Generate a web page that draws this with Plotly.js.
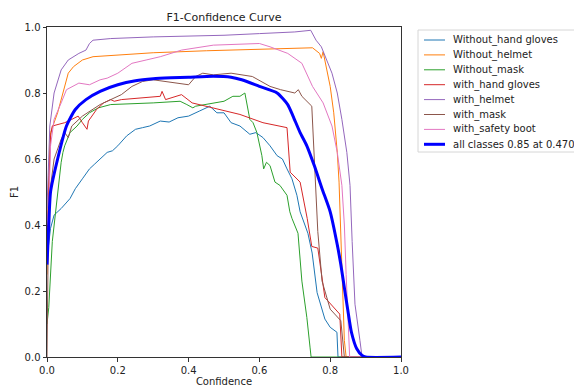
<!DOCTYPE html>
<html>
<head>
<meta charset="utf-8">
<script src="https://cdn.plot.ly/plotly-3.0.1.min.js"></script>
<style>html,body{margin:0;padding:0;background:#fff;}#chart{width:574px;height:387px;}</style>
</head>
<body>
<div id="chart"></div>
<script>
// Without_hand gloves
const conf_hand_gloves_wo = [0,0.003,0.01,0.02,0.04,0.065,0.08,0.1,0.12,0.135,0.15,0.17,0.185,0.2,0.225,0.25,0.27,0.29,0.32,0.345,0.37,0.4,0.43,0.46,0.48,0.5,0.52,0.545,0.573,0.59,0.61,0.63,0.65,0.665,0.678,0.692,0.706,0.715,0.737,0.749,0.763,0.785,0.8,0.819,0.822,1.0];
const f1_hand_gloves_wo   = [0.3,0.33,0.39,0.43,0.45,0.48,0.51,0.54,0.57,0.585,0.6,0.62,0.625,0.64,0.67,0.69,0.695,0.70,0.715,0.712,0.725,0.73,0.745,0.76,0.74,0.74,0.71,0.70,0.675,0.68,0.665,0.64,0.61,0.6,0.57,0.54,0.49,0.44,0.375,0.315,0.195,0.115,0.09,0.075,0,0];
// Without_helmet
const conf_helmet_wo = [0,0.005,0.01,0.03,0.045,0.06,0.075,0.1,0.13,0.2,0.3,0.45,0.6,0.75,0.77,0.775,0.78,0.79,0.8,0.81,0.82,0.825,0.83,0.835,0.84,0.845,1.0];
const f1_helmet_wo   = [0.25,0.55,0.68,0.74,0.8,0.86,0.88,0.9,0.91,0.915,0.922,0.928,0.933,0.937,0.92,0.905,0.925,0.87,0.82,0.74,0.62,0.53,0.38,0.17,0.05,0,0];
// Without_mask
const conf_mask_wo = [0,0.005,0.015,0.025,0.03,0.04,0.045,0.05,0.065,0.085,0.1,0.12,0.145,0.18,0.3,0.376,0.395,0.412,0.42,0.45,0.5,0.525,0.545,0.559,0.573,0.582,0.593,0.607,0.612,0.62,0.63,0.644,0.658,0.678,0.686,0.692,0.709,0.72,0.734,0.743,0.746,1.0];
const f1_mask_wo   = [0.1,0.15,0.35,0.45,0.5,0.59,0.62,0.64,0.68,0.70,0.72,0.74,0.755,0.765,0.77,0.775,0.765,0.755,0.76,0.765,0.775,0.79,0.79,0.80,0.72,0.71,0.68,0.61,0.57,0.59,0.58,0.53,0.52,0.49,0.44,0.42,0.375,0.23,0.12,0.03,0,0];
// with_hand gloves
const conf_hand_gloves = [0,0.004,0.01,0.015,0.05,0.07,0.088,0.1,0.113,0.117,0.14,0.16,0.18,0.19,0.21,0.32,0.325,0.335,0.38,0.41,0.49,0.545,0.61,0.678,0.687,0.715,0.735,0.748,0.765,0.785,0.827,0.833,1.0];
const f1_hand_gloves   = [0.35,0.5,0.67,0.70,0.71,0.72,0.73,0.71,0.69,0.715,0.75,0.77,0.78,0.775,0.78,0.79,0.805,0.78,0.795,0.77,0.75,0.735,0.71,0.695,0.56,0.53,0.42,0.335,0.33,0.18,0.13,0,0];
// with_helmet
const conf_helmet = [0,0.003,0.008,0.02,0.04,0.06,0.09,0.11,0.12,0.13,0.18,0.3,0.5,0.6,0.7,0.745,0.76,0.775,0.79,0.805,0.82,0.833,0.847,0.856,0.862,0.87,0.884,0.89,1.0];
const f1_helmet   = [0.45,0.55,0.7,0.8,0.87,0.9,0.92,0.93,0.95,0.96,0.965,0.97,0.975,0.98,0.985,0.99,0.96,0.94,0.90,0.86,0.80,0.72,0.62,0.52,0.35,0.16,0.05,0,0];
// with_mask
const conf_mask = [0,0.003,0.008,0.02,0.04,0.05,0.06,0.07,0.1,0.13,0.15,0.18,0.21,0.24,0.27,0.3,0.36,0.4,0.42,0.44,0.47,0.52,0.58,0.63,0.66,0.7,0.71,0.72,0.748,0.757,0.765,0.777,0.8,0.83,0.84,1.0];
const f1_mask   = [0.0,0.3,0.5,0.6,0.66,0.68,0.665,0.70,0.73,0.75,0.765,0.78,0.795,0.82,0.835,0.84,0.83,0.825,0.85,0.86,0.855,0.86,0.85,0.82,0.81,0.80,0.81,0.79,0.76,0.58,0.38,0.23,0.145,0.11,0,0];
// with_safety boot
const conf_boot = [0,0.005,0.01,0.02,0.04,0.055,0.09,0.12,0.15,0.17,0.2,0.24,0.28,0.32,0.38,0.47,0.6,0.63,0.68,0.72,0.75,0.78,0.805,0.82,0.833,0.84,0.845,0.85,0.855,1.0];
const f1_boot   = [0.4,0.45,0.64,0.72,0.77,0.81,0.83,0.825,0.84,0.845,0.86,0.89,0.90,0.91,0.93,0.945,0.95,0.94,0.92,0.89,0.82,0.77,0.70,0.62,0.52,0.40,0.25,0.10,0,0];
// all classes
const conf_all = [0,0.005,0.01,0.03,0.055,0.08,0.11,0.15,0.2,0.25,0.3,0.35,0.4,0.47,0.52,0.55,0.6,0.65,0.68,0.695,0.715,0.734,0.755,0.777,0.8,0.82,0.83,0.84,0.85,0.86,0.875,0.89,0.9,1.0];
const f1_all   = [0.28,0.4,0.5,0.6,0.7,0.75,0.78,0.805,0.825,0.837,0.843,0.846,0.848,0.851,0.848,0.84,0.82,0.80,0.765,0.73,0.68,0.64,0.58,0.51,0.44,0.34,0.28,0.21,0.14,0.075,0.025,0.005,0,0];

const names = ["Without_hand gloves","Without_helmet","Without_mask","with_hand gloves","with_helmet","with_mask","with_safety boot","all classes 0.85 at 0.470"];
const colors = ["#1f77b4","#ff7f0e","#2ca02c","#d62728","#9467bd","#8c564b","#e377c2","#0000ff"];
const xs = [conf_hand_gloves_wo,conf_helmet_wo,conf_mask_wo,conf_hand_gloves,conf_helmet,conf_mask,conf_boot,conf_all];
const ys = [f1_hand_gloves_wo,f1_helmet_wo,f1_mask_wo,f1_hand_gloves,f1_helmet,f1_mask,f1_boot,f1_all];

const traces = names.map((n,i)=>({
  x: xs[i], y: ys[i], name: n, type: 'scatter', mode: 'lines',
  line: i===7 ? {color: colors[i], width: 3, shape: 'spline', smoothing: 0.6} : {color: colors[i], width: 1},
  hoverinfo: 'skip', showlegend: false
}));

// plot-area geometry (pixels) used to place the hand-drawn legend box
const L = 47, R = 401, T = 27, B = 357;
const px = v => (v - L) / (R - L);
const py = v => (B - v) / (B - T);

const shapes = [{
  type: 'rect', xref: 'paper', yref: 'paper',
  x0: px(418), x1: px(590), y0: py(152), y1: py(30),
  line: {color: '#d6d6d6', width: 1}, fillcolor: '#fff', layer: 'above'
}];
const annotations = [];
names.forEach((n,i)=>{
  const yy = 40 + i*14.9;
  shapes.push({type: 'line', xref: 'paper', yref: 'paper', x0: px(424), x1: px(445), y0: py(yy), y1: py(yy),
    line: {color: colors[i], width: i===7 ? 3 : 1}, layer: 'above'});
  annotations.push({xref: 'paper', yref: 'paper', x: px(451), y: py(yy), xanchor: 'left', yanchor: 'middle',
    text: n, showarrow: false, font: {family: 'DejaVu Sans, sans-serif', size: 10, color: '#222'}});
});

const font = {family: 'DejaVu Sans, sans-serif', size: 10, color: '#222'};
const axisCommon = {
  range: [0,1], dtick: 0.2, tick0: 0, tickformat: '.1f',
  showgrid: false, zeroline: false, showline: true, mirror: true,
  linecolor: '#333', linewidth: 1, ticks: 'outside', ticklen: 3.5, tickcolor: '#333',
  tickfont: font, fixedrange: true
};
const layout = {
  width: 574, height: 387,
  margin: {l: L, r: 574 - R, t: T, b: 387 - B, autoexpand: false},
  paper_bgcolor: '#fff', plot_bgcolor: '#fff',
  font: font,
  title: {text: 'F1-Confidence Curve', font: {family: 'DejaVu Sans, sans-serif', size: 11, color: '#222'}, x: 224/574, xanchor: 'center', yref: 'container', y: 1 - 17/387, yanchor: 'middle'},
  xaxis: Object.assign({}, axisCommon, {title: {text: 'Confidence', font: font, standoff: 2}}),
  yaxis: Object.assign({}, axisCommon, {title: {text: 'F1', font: font, standoff: 4}}),
  showlegend: false,
  shapes: shapes,
  annotations: annotations
};
Plotly.newPlot('chart', traces, layout, {displayModeBar: false, staticPlot: true});
</script>
</body>
</html>
